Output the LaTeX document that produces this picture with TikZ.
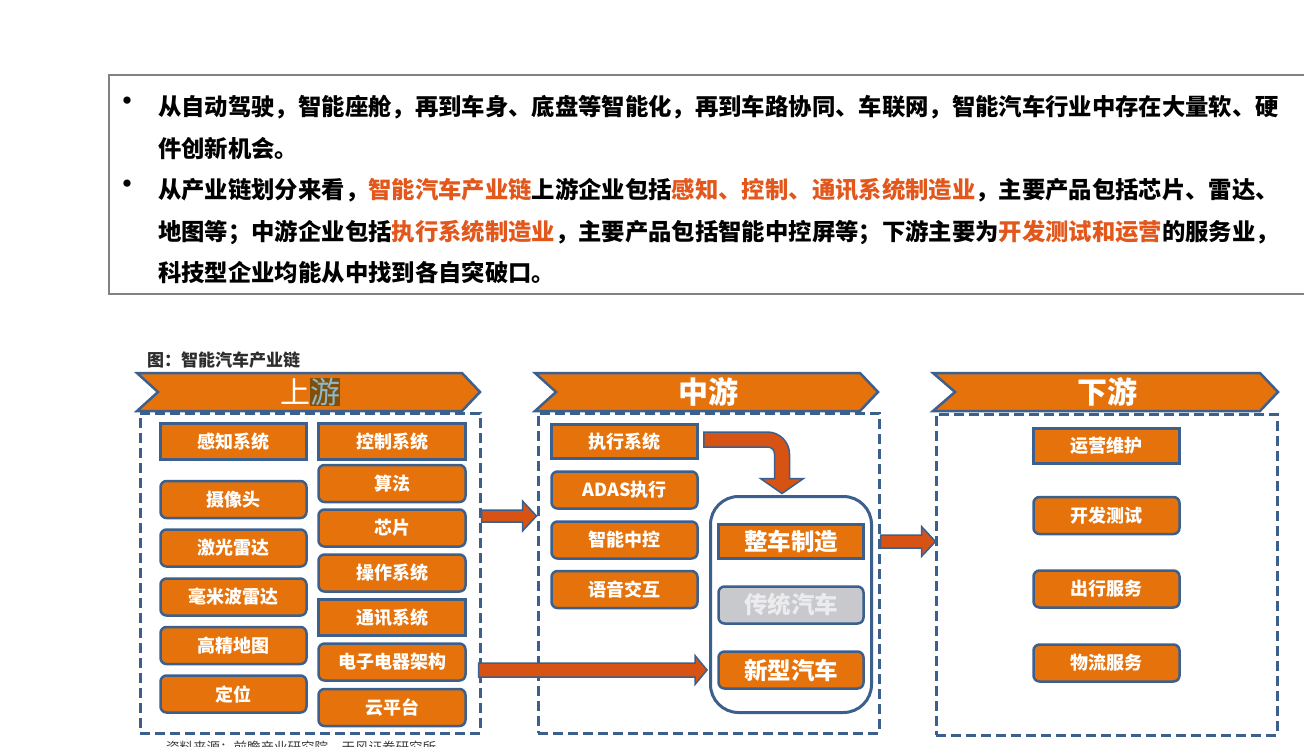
\documentclass[tikz,border=0pt]{standalone}
\usepackage{fontspec}
\setmainfont{Noto Sans CJK SC}
\usetikzlibrary{calc}
\definecolor{orng}{RGB}{229,114,10}
\definecolor{bblue}{RGB}{60,96,142}
\definecolor{arrc}{RGB}{214,83,20}
\definecolor{hlc}{RGB}{226,88,28}
\definecolor{graybox}{RGB}{200,201,204}
\definecolor{graytxt}{RGB}{236,236,238}
\definecolor{hlbrown}{RGB}{128,80,10}
\definecolor{hlblue}{RGB}{140,185,205}
\definecolor{frame}{RGB}{130,130,130}
\definecolor{titlec}{RGB}{45,45,45}
\definecolor{srcc}{RGB}{60,60,60}
\newcommand\hl[1]{{\color{hlc}#1}}
\newcommand\harrow[5]{%
  \path[blockarrow] let \p1=(#1), \p2=(#2) in
   (\x1,\y2+#3) -- (\x2-#5,\y2+#3) -- (\x2-#5,\y2+#4) -- (\x2,\y2)
   -- (\x2-#5,\y2-#4) -- (\x2-#5,\y2-#3) -- (\x1,\y2-#3) -- cycle;}
\begin{document}
\begin{tikzpicture}[x=1pt,y=-1pt,
  ob/.style={draw=bblue, line width=2.5pt, fill=orng, text=white,
    font=\bfseries\fontsize{18}{18}\selectfont, inner sep=0pt,
    rounded corners=6pt, minimum height=37pt},
  lcol/.style={ob, minimum width=146pt},
  rcol/.style={ob, minimum width=147pt},
  sq/.style={sharp corners},
  big/.style={font=\bfseries\fontsize{23.5}{24}\selectfont},
  banner/.style={draw=bblue, line width=2.5pt, fill=orng, line join=miter},
  bannertxt/.style={text=white, font=\bfseries\fontsize{30}{30}\selectfont, inner sep=0pt},
  dbox/.style={draw=bblue, line width=3pt, dash pattern=on 10pt off 5pt, inner sep=0pt},
  blockarrow/.style={fill=arrc, draw=bblue, line width=1.5pt, line join=miter},
  topline/.style={anchor=base west, inner sep=0pt, font=\bfseries\fontsize{23.35}{24}\selectfont},
  bul/.style={inner sep=0pt, font=\bfseries\fontsize{26}{26}\selectfont}
]
\useasboundingbox (0,0) rectangle (1304,747);
\clip (0,0) rectangle (1304,747);

% top text frame
\draw[frame, line width=1.5pt] (109,75) rectangle (1330,294);
\node[bul] (bu1) at (127,104) {•};
\node[bul] (bu2) at (127,187) {•};
\node[topline] (t1) at (158,115) {从自动驾驶，智能座舱，再到车身、底盘等智能化，再到车路协同、车联网，智能汽车行业中存在大量软、硬};
\node[topline] (t2) at (158,157) {件创新机会。};
\node[topline] (t3) at (158,198) {从产业链划分来看，\hl{智能汽车产业链}上游企业包括\hl{感知、控制、通讯系统制造业}，主要产品包括芯片、雷达、};
\node[topline] (t4) at (158,240) {地图等；中游企业包括\hl{执行系统制造业}，主要产品包括智能中控屏等；下游主要为\hl{开发测试和运营}的服务业，};
\node[topline] (t5) at (158,281) {科技型企业均能从中找到各自突破口。};

% figure title
\node[anchor=west, inner sep=0pt, text=titlec, font=\bfseries\fontsize{17}{17}\selectfont] (ftitle) at (147,360) {图：智能汽车产业链};

% banners
\path[banner] (137,373) -- (462,373) -- (480,392) -- (462,411) -- (137,411) -- (158,392) -- cycle;
\path[banner] (535,373) -- (860,373) -- (878,392) -- (860,411) -- (535,411) -- (556,392) -- cycle;
\path[banner] (933,373) -- (1260,373) -- (1278,392) -- (1260,411) -- (933,411) -- (955,392) -- cycle;
\node[bannertxt, font=\fontsize{30}{30}\selectfont] (bup) at (310,392) {上{\setlength{\fboxsep}{0pt}\colorbox{hlbrown}{\color{hlblue}游}}};
\node[bannertxt] (bmid) at (708,392) {中游};
\node[bannertxt] (bdown) at (1107,392) {下游};

% dashed frames
\node[dbox, minimum width=340pt, minimum height=320pt] (up) at (310,573) {};
\node[dbox, minimum width=341pt, minimum height=320pt] (mid) at (708.5,573) {};
\node[dbox, minimum width=341pt, minimum height=321pt] (down) at (1106.5,574.5) {};

% upstream left column
\node[lcol, sq, minimum height=36pt] (gz) at (233.5,441.5) {感知系统};
\node[lcol] (sxt) at (233.5,499.5) {摄像头};
\node[lcol] (jg) at (233.5,548) {激光雷达};
\node[lcol] (hm) at (233.5,597) {毫米波雷达};
\node[lcol] (gj) at (233.5,645.5) {高精地图};
\node[lcol] (dw) at (233.5,694) {定位};
% upstream right column
\node[rcol, sq, minimum height=36pt] (kz) at (392,441.5) {控制系统};
\node[rcol] (sf) at (392,483.5) {算法};
\node[rcol] (xp) at (392,528) {芯片};
\node[rcol] (cz) at (392,573) {操作系统};
\node[rcol, sq, minimum height=36pt] (tx) at (392,617.5) {通讯系统};
\node[rcol] (dz) at (392,662) {电子电器架构};
\node[rcol] (yp) at (392,707.5) {云平台};

% midstream
\node[lcol, sq, minimum height=34pt] (zx) at (624.5,441.5) {执行系统};
\node[lcol] (adas) at (624.5,490) {ADAS执行};
\node[lcol] (zn) at (624.5,540) {智能中控};
\node[lcol] (yy) at (624.5,589.5) {语音交互};
\node[draw=bblue, line width=3pt, rounded corners=28pt, fill=white,
      minimum width=161pt, minimum height=216pt, inner sep=0pt] (cont) at (791,604.5) {};
\node[ob, big, sq, minimum width=145pt, minimum height=34pt] (zc) at (791,541.5) {整车制造};
\node[ob, big, fill=graybox, text=graytxt, minimum width=145pt] (ct) at (791,605) {传统汽车};
\node[ob, big, minimum width=145pt] (xx) at (791,670) {新型汽车};

% downstream
\node[lcol, sq, minimum height=35pt] (yw) at (1106.5,446) {运营维护};
\node[lcol] (kf) at (1106.5,515.5) {开发测试};
\node[lcol] (cx) at (1106.5,589) {出行服务};
\node[lcol] (wl) at (1106.5,663) {物流服务};

% block arrows
\coordinate (a1s) at ([yshift=57pt]up.east);
\coordinate (a1e) at ([yshift=57pt]mid.west);
\harrow{a1s}{a1e}{6pt}{15pt}{14pt}
\coordinate (a3s) at ([yshift=-97pt,xshift=-3pt]up.east);
\coordinate (a3e) at ([yshift=-65.5pt,xshift=-2pt]cont.west);
\harrow{a3s}{a3e}{7pt}{14.5pt}{12pt}
\coordinate (a2s) at ([yshift=31.5pt]mid.east);
\coordinate (a2e) at ([yshift=33pt,xshift=1pt]down.west);
\harrow{a2s}{a2e}{6.5pt}{15pt}{14pt}

% bent arrow from 执行系统 down to the vehicle block
\coordinate (b1s) at ([xshift=5pt,yshift=2pt]zx.east);
\coordinate (b1e) at ([xshift=-9pt,yshift=1.5pt]cont.north);
\path[blockarrow] let \p1=(b1s), \p2=(b1e) in
  (\x1,\y1+7.5pt) -- (\x2-14.5pt,\y1+7.5pt)
  .. controls (\x2-2.5pt,\y1+7.5pt) and (\x2+7.5pt,\y1-2.5pt) .. (\x2+7.5pt,\y1-14.5pt)
  -- (\x2+7.5pt,\y2+15pt) -- (\x2+21.5pt,\y2+15pt) -- (\x2,\y2)
  -- (\x2-21.5pt,\y2+15pt) -- (\x2-7.5pt,\y2+15pt) -- (\x2-7.5pt,\y1-14.5pt)
  .. controls (\x2-7.5pt,\y1-10.5pt) and (\x2-10.5pt,\y1-7.5pt) .. (\x2-14.5pt,\y1-7.5pt)
  -- (\x1,\y1-7.5pt) -- cycle;

% source (cut by the lower edge, as in the reference)
\node[anchor=west, inner sep=0pt, text=srcc, font=\fontsize{13.5}{14}\selectfont] (src) at (166,747.5) {资料来源：前瞻产业研究院，天风证券研究所};
\end{tikzpicture}
\end{document}
